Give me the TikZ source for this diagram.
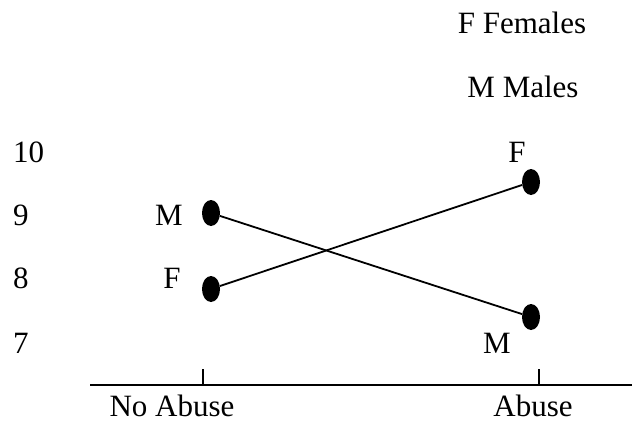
\documentclass[tikz,border=0pt]{standalone}
\usepackage{fontspec}
\setmainfont{Liberation Serif}
\usetikzlibrary{shapes.geometric}
\begin{document}
\begin{tikzpicture}[x=1pt,y=-1pt,
  lbl/.style={inner sep=0pt,font=\fontsize{31}{36}\selectfont},
  dot/.style={ellipse,fill=black,inner sep=0pt,minimum width=18pt,minimum height=26pt},
  conn/.style={line width=1.8pt},
  axisline/.style={line width=1.8pt}]
\useasboundingbox (0,0) rectangle (632,423);
% legend
\node[lbl,anchor=base] (legf) at (522,33) {F Females};
\node[lbl,anchor=base] (legm) at (523,97) {M Males};
% y labels
\node[lbl,anchor=base west] (y10) at (13,162) {10};
\node[lbl,anchor=base west] (y9) at (13,225) {9};
\node[lbl,anchor=base west] (y8) at (13,288) {8};
\node[lbl,anchor=base west] (y7) at (13,353) {7};
% dots
\node[dot] (lm) at (211,213) {};
\node[dot] (lf) at (211,289) {};
\node[dot] (rf) at (531,182) {};
\node[dot] (rm) at (531,317) {};
% point labels
\node[lbl,anchor=base] (tlm) at (169,225) {M};
\node[lbl,anchor=base] (tlf) at (172,288) {F};
\node[lbl,anchor=base] (trf) at (517,162) {F};
\node[lbl,anchor=base] (trm) at (497,353) {M};
% connectors
\draw[conn] (lm) -- (rm);
\draw[conn] (lf) -- (rf);
% axis
\coordinate (axl) at (90,385);
\coordinate (axr) at (632,385);
\coordinate (t1b) at (203,385);
\coordinate (t1t) at (203,369);
\coordinate (t2b) at (539,385);
\coordinate (t2t) at (539,369);
\draw[axisline] (axl) -- (axr);
\draw[axisline] (t1b) -- (t1t);
\draw[axisline] (t2b) -- (t2t);
\node[lbl,anchor=base] (xna) at (172,416) {No Abuse};
\node[lbl,anchor=base] (xa) at (533,416) {Abuse};
\end{tikzpicture}
\end{document}
